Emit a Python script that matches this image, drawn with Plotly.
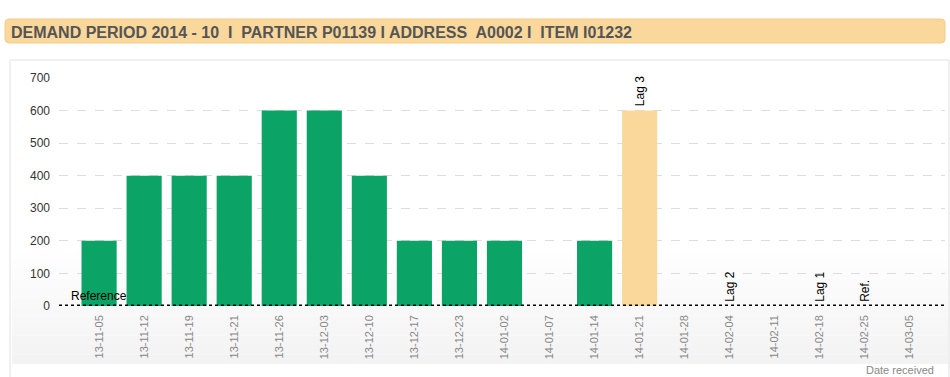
import plotly.graph_objects as go

categories = ["13-11-05", "13-11-12", "13-11-19", "13-11-21", "13-11-26", "13-12-03",
              "13-12-10", "13-12-17", "13-12-23", "14-01-02", "14-01-07", "14-01-14",
              "14-01-21", "14-01-28", "14-02-04", "14-02-11", "14-02-18", "14-02-25",
              "14-03-05"]
received = [200, 400, 400, 400, 600, 600, 400, 200, 200, 200, 0, 200, 0, 0, 0, 0, 0, 0, 0]
lag3_value = [None] * 12 + [600] + [None] * 6
markers = [("14-01-21", 600, "Lag 3"), ("14-02-04", 0, "Lag 2"),
           ("14-02-18", 0, "Lag 1"), ("14-02-25", 0, "Ref.")]
yticks = [0, 100, 200, 300, 400, 500, 600, 700]
title_text = "DEMAND PERIOD 2014 - 10  I  PARTNER P01139 I ADDRESS  A0002 I  ITEM I01232"

W, H = 950, 377
L, R, T, B = 59, 945, 78, 306
def px(x):
    return (x - L) / (R - L)
def py(y):
    return (B - y) / (B - T)

fig = go.Figure()
fig.add_bar(x=categories, y=received, marker_color="#0ba466", marker_line_width=0)
fig.add_bar(x=categories, y=lag3_value, marker_color="#fad79b", marker_line_width=0)

shapes = []
# subtle gradient at bottom of panel
steps = 12
for i in range(steps):
    y0 = 250 + i * (364 - 250) / steps
    y1 = 250 + (i + 1) * (364 - 250) / steps
    g = int(255 - (i + 1) * 12 / steps)
    shapes.append(dict(type="rect", xref="paper", yref="paper", x0=px(12), x1=px(948),
                       y0=py(y1), y1=py(y0), fillcolor=f"rgb({g},{g},{g})",
                       line_width=0, layer="below"))
# panel border
shapes.append(dict(type="rect", xref="paper", yref="paper", x0=px(10), x1=px(949),
                   y0=py(380), y1=py(60), line=dict(color="#e0e0e0", width=1),
                   fillcolor="rgba(0,0,0,0)", layer="below"))
# title bar (rounded)
x0, x1, y0, y1, r = 5, 945, 19, 43, 4
def P(x, y):
    return f"{px(x)},{py(y)}"
path = (f"M {P(x0 + r, y0)} L {P(x1 - r, y0)} Q {P(x1, y0)} {P(x1, y0 + r)} "
        f"L {P(x1, y1 - r)} Q {P(x1, y1)} {P(x1 - r, y1)} L {P(x0 + r, y1)} "
        f"Q {P(x0, y1)} {P(x0, y1 - r)} L {P(x0, y0 + r)} Q {P(x0, y0)} {P(x0 + r, y0)} Z")
shapes.append(dict(type="path", xref="paper", yref="paper", path=path,
                   fillcolor="#fad79b", line=dict(color="#f3cc88", width=1)))
# dotted reference line at zero
shapes.append(dict(type="line", xref="paper", yref="y", x0=0, x1=1, y0=0, y1=0,
                   line=dict(color="black", width=3, dash="dot")))

annotations = [
    dict(xref="paper", yref="paper", x=px(9), y=py(32), xanchor="left", yanchor="middle",
         text=title_text, showarrow=False,
         font=dict(family="Liberation Sans", size=16, color="#555555", weight="bold")),
    dict(xref="paper", yref="y", x=px(69), y=0, xanchor="left", yanchor="bottom",
         text="Reference", showarrow=False, yshift=1,
         font=dict(family="Liberation Sans", size=12, color="black")),
    dict(xref="paper", yref="paper", x=px(936), y=py(370), xanchor="right", yanchor="middle",
         text="Date received", showarrow=False,
         font=dict(family="Liberation Sans", size=11, color="#888888")),
]
for cat, val, label in markers:
    annotations.append(dict(x=cat, y=val, xref="x", yref="y", text=label, textangle=-90,
                            showarrow=False, xanchor="center", yanchor="bottom", yshift=2,
                            font=dict(family="Liberation Sans", size=12, color="black")))

fig.update_layout(
    width=W, height=H,
    margin=dict(l=L, r=W - R, t=T, b=H - B, autoexpand=False),
    paper_bgcolor="white", plot_bgcolor="rgba(0,0,0,0)",
    barmode="overlay", bargap=0.22, showlegend=False,
    shapes=shapes, annotations=annotations,
    xaxis=dict(type="category", range=[-0.89, 18.78], tickangle=-90, showgrid=False,
               ticks="", showline=False, zeroline=False, ticklabelstandoff=6,
               tickfont=dict(family="Liberation Sans", size=11, color="#888888")),
    yaxis=dict(range=[0, 700], tickvals=yticks, showgrid=True, gridcolor="#dddddd",
               griddash="dash", gridwidth=1, zeroline=False, showline=False, ticks="",
               ticklabelstandoff=8,
               tickfont=dict(family="Liberation Sans", size=12, color="#333333")),
)
fig.write_html("out.html", config={"displayModeBar": False},
               post_script="document.body.style.margin='0';document.body.style.overflow='hidden';")
